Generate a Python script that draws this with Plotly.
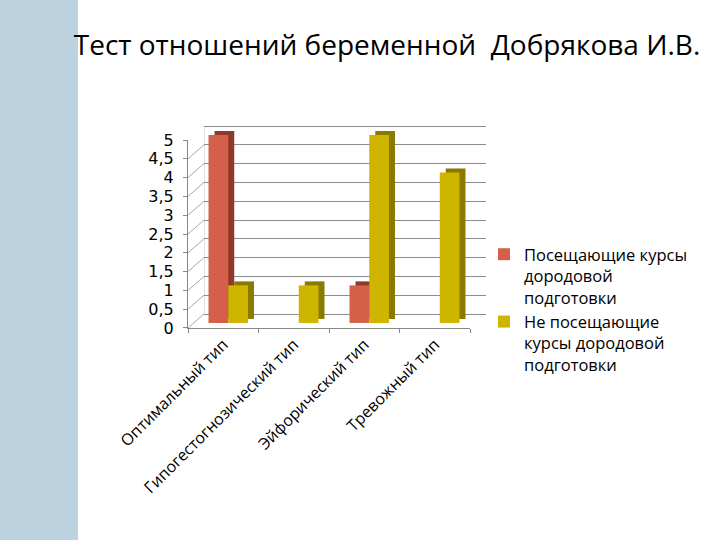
import plotly.graph_objects as go

# ---- data ----
categories = ["Оптимальный тип", "Гипогестогнозический тип", "Эйфорический тип", "Тревожный тип"]
attending = [5, 0, 1, 0]
not_attending = [1, 1, 5, 4]
series_names = ["Посещающие курсы<br>дородовой<br>подготовки",
                "Не посещающие<br>курсы дородовой<br>подготовки"]
y_tick_values = [0, 0.5, 1, 1.5, 2, 2.5, 3, 3.5, 4, 4.5, 5]
y_tick_labels = ["0", "0,5", "1", "1,5", "2", "2,5", "3", "3,5", "4", "4,5", "5"]
title_text = "Тест отношений беременной  Добрякова И.В."

# ---- geometry (pixels) ----
W, H = 720, 540
FL, FR, FB, FT = 188, 470, 328, 140   # front frame
YMAX = 5
PPU = (FB - FT) / YMAX                # pixels per unit on the value axis


def xd(dx):
    return [(FL + dx) / W, (FR + dx) / W]


def yd(dy, ext=0.0):
    e = ext * PPU
    return [(H - (FB - dy + e)) / H, (H - (FT - dy - e)) / H]


WALL = (16, 14)
BAR_FRONT = (5, 5)
BAR_BACK = (11, 9)
WALL_EXT = 0.05

xpos = list(range(len(categories)))
xr = [-0.5, len(categories) - 0.5]
yr = [-0.001, YMAX + 0.001]
yr_wall = [-WALL_EXT, YMAX + WALL_EXT]
bw = 0.28

RED, RED_SIDE = "#D5604A", "#8E3A2B"
YEL, YEL_SIDE = "#CDB500", "#8A7B00"

fig = go.Figure()

# empty trace so that the back-wall subplot is drawn
fig.add_trace(go.Scatter(x=[], y=[], xaxis="x2", yaxis="y2", showlegend=False,
                         hoverinfo="skip"))
fig.add_trace(go.Bar(x=xpos, y=attending, width=bw, offset=-bw, marker_color=RED_SIDE,
                     marker_line_width=0, showlegend=False, hoverinfo="skip",
                     xaxis="x3", yaxis="y3"))
fig.add_trace(go.Bar(x=xpos, y=attending, width=bw, offset=-bw, marker_color=RED,
                     marker_line_width=0, name=series_names[0], legendrank=1,
                     xaxis="x4", yaxis="y4"))
fig.add_trace(go.Bar(x=xpos, y=not_attending, width=bw, offset=0, marker_color=YEL_SIDE,
                     marker_line_width=0, showlegend=False, hoverinfo="skip",
                     xaxis="x5", yaxis="y5"))
fig.add_trace(go.Bar(x=xpos, y=not_attending, width=bw, offset=0, marker_color=YEL,
                     marker_line_width=0, name=series_names[1], legendrank=2,
                     xaxis="x6", yaxis="y6"))

hidden = dict(visible=False, fixedrange=True, automargin=False)

layout = dict(
    width=W, height=H, autosize=False,
    margin=dict(l=0, r=0, t=0, b=0, pad=0, autoexpand=False),
    paper_bgcolor="white", plot_bgcolor="rgba(0,0,0,0)",
    barmode="overlay",
    showlegend=True,
    title=dict(text=title_text, x=387 / W, xanchor="center", y=1 - 45 / H, yanchor="middle",
               xref="paper", yref="container", automargin=False,
               font=dict(family="Open Sans", size=28, color="black")),
    legend=dict(x=484 / W, xanchor="left", y=(H - 237) / H, yanchor="top",
                font=dict(family="Open Sans", size=16.5, color="black"),
                valign="top", tracegroupgap=0, bgcolor="rgba(0,0,0,0)",
                itemwidth=30),
    xaxis=dict(domain=xd(0), anchor="y", range=xr, tickmode="array", tickvals=xpos,
               ticktext=categories, tickangle=-45, ticks="", automargin=False,
               tickfont=dict(family="Open Sans", size=16, color="black"),
               showline=True, linecolor="#888888", linewidth=1, showgrid=False, zeroline=False,
               minor=dict(tickvals=[-0.5, 0.5, 1.5, 2.5, 3.5], ticks="outside", ticklen=4,
                          tickcolor="#888888", showgrid=False)),
    yaxis=dict(domain=yd(0), anchor="x", range=yr, tickmode="array", tickvals=y_tick_values,
               ticktext=y_tick_labels, ticks="outside", ticklen=4, tickcolor="#888888",
               automargin=False, ticklabelstandoff=6,
               tickfont=dict(family="DejaVu Sans", size=16, color="black"),
               showline=True, linecolor="#888888", linewidth=1, showgrid=False, zeroline=False),
    xaxis2=dict(domain=xd(WALL[0]), anchor="y2", range=xr, showticklabels=False, ticks="",
                showgrid=False, zeroline=False, showline=False, automargin=False),
    yaxis2=dict(domain=yd(WALL[1], WALL_EXT), anchor="x2", range=yr_wall, tickmode="array",
                tickvals=y_tick_values, showticklabels=False, ticks="", automargin=False,
                showgrid=True, gridcolor="#8C8C8C", gridwidth=1, zeroline=False,
                showline=False),
    xaxis3=dict(domain=xd(BAR_BACK[0]), anchor="y3", range=xr, **hidden),
    yaxis3=dict(domain=yd(BAR_BACK[1]), anchor="x3", range=yr, **hidden),
    xaxis4=dict(domain=xd(BAR_FRONT[0]), anchor="y4", range=xr, **hidden),
    yaxis4=dict(domain=yd(BAR_FRONT[1]), anchor="x4", range=yr, **hidden),
    xaxis5=dict(domain=xd(BAR_BACK[0]), anchor="y5", range=xr, **hidden),
    yaxis5=dict(domain=yd(BAR_BACK[1]), anchor="x5", range=yr, **hidden),
    xaxis6=dict(domain=xd(BAR_FRONT[0]), anchor="y6", range=xr, **hidden),
    yaxis6=dict(domain=yd(BAR_FRONT[1]), anchor="x6", range=yr, **hidden),
)
fig.update_layout(**layout)

fig.add_shape(type="rect", xref="paper", yref="paper", x0=0, x1=78 / W, y0=0, y1=1,
              fillcolor="#BCD2DE", line_width=0, layer="below")

# back-wall left edge
fig.add_shape(type="line", xref="x2", yref="y2", x0=xr[0], x1=xr[0], y0=0, y1=YMAX,
              line=dict(color="#C8C8C8", width=1), layer="below")
# left-wall diagonals
for v in y_tick_values:
    fig.add_shape(type="line", xref="x", yref="y", xsizemode="pixel", ysizemode="pixel",
                  xanchor=xr[0], yanchor=v, x0=0, x1=WALL[0], y0=0, y1=WALL[1],
                  line=dict(color="#A8A8A8", width=1), layer="below")
# floor right edge
fig.add_shape(type="line", xref="x", yref="y", xsizemode="pixel", ysizemode="pixel",
              xanchor=xr[1], yanchor=0, x0=0, x1=WALL[0], y0=0, y1=WALL[1],
              line=dict(color="#A8A8A8", width=1), layer="below")

fig.write_html("out.html", config={"responsive": False, "displayModeBar": False},
               post_script="document.body.style.margin='0';document.body.style.padding='0';")
